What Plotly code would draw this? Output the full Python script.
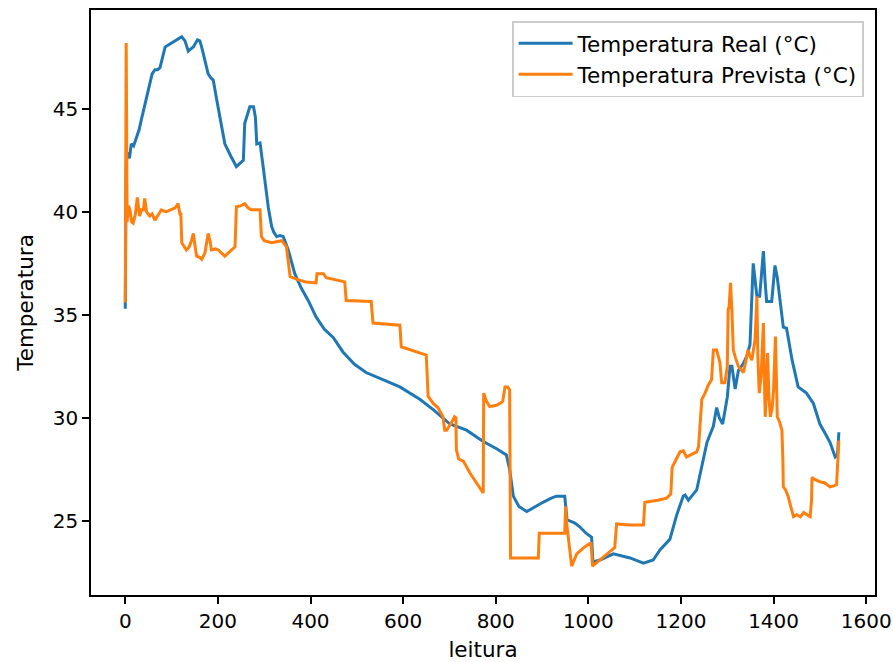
import plotly.graph_objects as go

# ---- data ----
real_x = [0, 2, 5, 9, 13, 18, 24, 30, 35, 44, 53, 58, 64, 70, 75, 80, 86, 93, 100, 110,
          122, 129, 136, 141, 147, 156, 161, 165, 172, 179, 185, 190, 197, 204, 215, 228,
          240, 250, 255, 258, 262, 269, 277, 281, 284, 291, 296, 302, 309, 316, 321, 327,
          334, 341, 346, 352, 366, 380, 395, 412, 430, 449, 470, 495, 520, 550, 593, 636,
          665, 701, 737, 773, 802, 823, 830, 838, 850, 867, 885, 902, 920, 931, 949, 952,
          954, 970, 982, 995, 1007, 1010, 1025, 1054, 1070, 1090, 1119, 1140, 1155, 1176,
          1191, 1205, 1209, 1216, 1234, 1245, 1256, 1270, 1277, 1283, 1290, 1300, 1306,
          1310, 1317, 1324, 1335, 1342, 1349, 1356, 1360, 1364, 1370, 1378, 1382, 1385,
          1396, 1400, 1403, 1408, 1414, 1421, 1428, 1440, 1453, 1471, 1486, 1500, 1510,
          1522, 1533, 1538, 1541]
real_y = [35.3, 42.4, 42.9, 42.6, 43.3, 43.2, 43.6, 44.0, 44.5, 45.4, 46.3, 46.7, 46.9, 46.9,
          47.0, 47.5, 48.0, 48.1, 48.2, 48.3, 48.5, 48.3, 47.8, 47.9, 48.0, 48.35, 48.3, 48.0,
          47.4, 46.7, 46.5, 46.4, 45.5, 44.6, 43.3, 42.7, 42.2, 42.4, 42.5, 44.3, 44.6, 45.1,
          45.1, 44.6, 43.3, 43.35, 42.5, 41.4, 40.2, 39.3, 39.0, 38.8, 38.85, 38.8, 38.5,
          38.15, 37.0, 36.3, 35.7, 34.9, 34.3, 33.9, 33.2, 32.6, 32.2, 31.9, 31.5, 30.9, 30.4,
          29.7, 29.4, 28.85, 28.5, 28.2, 27.5, 26.2, 25.7, 25.45, 25.7, 25.9, 26.1, 26.2,
          26.2, 25.6, 25.05, 24.9, 24.7, 24.4, 24.2, 23.0, 23.1, 23.4, 23.3, 23.2, 22.95,
          23.1, 23.6, 24.1, 25.3, 26.2, 26.25, 26.0, 26.5, 27.6, 28.8, 29.6, 30.5, 30.0,
          29.7, 31.0, 32.5, 32.5, 31.4, 32.3, 32.65, 33.0, 33.55, 37.5, 36.5, 35.9, 35.9,
          38.1, 36.5, 35.65, 35.65, 36.5, 37.4, 36.8, 35.55, 34.4, 34.35, 32.8, 31.5, 31.2,
          30.7, 29.7, 29.3, 28.8, 28.1, 28.2, 29.3]

prev_x = [0, 2, 4, 7, 10, 14, 17, 22, 26, 29, 31, 35, 39, 42, 46, 53, 58, 64, 70, 78, 88,
          100, 108, 114, 118, 120, 122, 132, 138, 143, 147, 151, 154, 160, 165, 172, 179,
          183, 186, 195, 201, 208, 215, 222, 229, 237, 240, 250, 258, 265, 272, 280, 291,
          294, 300, 316, 330, 338, 348, 352, 356, 374, 390, 412, 414, 428, 434, 474, 477,
          531, 535, 593, 596, 629, 650, 654, 665, 675, 686, 690, 694, 704, 711, 714, 715,
          720, 730, 745, 760, 773, 774, 780, 787, 800, 809, 815, 820, 826, 830, 832, 892,
          894, 949, 951, 953, 956, 960, 964, 975, 990, 1003, 1006, 1009, 1025, 1040, 1057,
          1061, 1090, 1119, 1122, 1150, 1169, 1178, 1181, 1190, 1198, 1205, 1212, 1225,
          1234, 1238, 1241, 1245, 1252, 1259, 1266, 1270, 1277, 1284, 1288, 1295, 1300,
          1302, 1304, 1307, 1310, 1313, 1318, 1324, 1335, 1340, 1345, 1349, 1353, 1360,
          1364, 1366, 1369, 1373, 1378, 1380, 1382, 1385, 1387, 1390, 1393, 1397, 1400,
          1404, 1406, 1408, 1413, 1418, 1420, 1421, 1426, 1432, 1437, 1443, 1450, 1458,
          1465, 1472, 1479, 1482, 1483, 1490, 1500, 1510, 1522, 1530, 1536, 1541]
prev_y = [35.6, 48.2, 39.5, 40.3, 40.1, 39.5, 39.45, 39.9, 40.7, 40.0, 39.8, 40.1, 40.1,
          40.65, 40.0, 39.8, 39.9, 39.6, 39.8, 40.1, 40.0, 40.1, 40.2, 40.4, 39.9, 39.9,
          38.5, 38.15, 38.3, 38.6, 38.95, 38.3, 37.85, 37.8, 37.7, 38.0, 38.95, 38.6, 38.15,
          38.2, 38.15, 38.0, 37.85, 38.0, 38.15, 38.3, 40.25, 40.3, 40.4, 40.2, 40.1, 40.1,
          40.1, 38.8, 38.6, 38.5, 38.55, 38.6, 38.3, 37.5, 36.85, 36.7, 36.6, 36.55, 37.0,
          37.0, 36.8, 36.6, 35.7, 35.65, 34.6, 34.5, 33.45, 33.2, 33.05, 31.05, 30.7, 30.5,
          30.05, 29.4, 29.4, 29.75, 30.05, 30.0, 28.45, 28.0, 27.9, 27.3, 26.8, 26.35, 31.2,
          30.8, 30.55, 30.6, 30.7, 30.8, 31.5, 31.5, 31.35, 23.2, 23.2, 24.4, 24.4, 25.7,
          24.9, 24.25, 23.5, 22.8, 23.4, 23.7, 23.9, 23.9, 22.8, 23.1, 23.35, 23.7, 24.85,
          24.8, 24.8, 25.9, 26.0, 26.1, 26.3, 27.6, 28.0, 28.35, 28.4, 28.1, 28.25, 28.35,
          28.6, 29.6, 30.9, 31.2, 31.6, 31.85, 33.3, 33.3, 32.7, 31.7, 31.7, 32.5, 35.25,
          35.4, 36.55, 35.2, 33.3, 32.9, 32.5, 32.2, 32.7, 33.3, 33.0, 32.8, 33.8, 35.9,
          33.0, 31.2, 32.0, 34.6, 32.0, 30.05, 31.5, 33.15, 31.0, 30.05, 30.5, 31.35, 33.95,
          31.5, 30.05, 29.8, 29.4, 28.0, 26.65, 26.5, 26.15, 25.7, 25.2, 25.3, 25.2, 25.4,
          25.3, 25.2, 26.0, 27.1, 27.0, 26.9, 26.85, 26.65, 26.7, 26.75, 28.9]

x_ticks = [0, 200, 400, 600, 800, 1000, 1200, 1400, 1600]
y_ticks = [25, 30, 35, 40, 45]
x_label = "leitura"
y_label = "Temperatura"
real_name = "Temperatura Real (°C)"
prev_name = "Temperatura Prevista (°C)"

FONT = "DejaVu Sans"
TICK_SIZE = 20
LABEL_SIZE = 21.5

fig = go.Figure()
fig.add_trace(go.Scatter(x=real_x, y=real_y, mode="lines", name=real_name,
                         line=dict(color="#1f77b4", width=3)))
fig.add_trace(go.Scatter(x=prev_x, y=prev_y, mode="lines", name=prev_name,
                         line=dict(color="#ff7f0e", width=3)))

axis_common = dict(showgrid=False, zeroline=False, showline=True, mirror=True,
                   linecolor="black", linewidth=1.6, ticks="outside", ticklen=7,
                   tickwidth=1.6, tickcolor="black", automargin=False,
                   tickfont=dict(family=FONT, size=TICK_SIZE, color="black"))

fig.update_xaxes(range=[-74, 1619], tickvals=x_ticks,
                 title=dict(text=x_label, font=dict(family=FONT, size=LABEL_SIZE, color="black"),
                            standoff=11),
                 **axis_common)
fig.update_yaxes(range=[21.4, 49.8], tickvals=y_ticks,
                 title=dict(text=y_label, font=dict(family=FONT, size=LABEL_SIZE, color="black"),
                            standoff=13),
                 **axis_common)

fig.update_layout(
    width=893, height=662,
    margin=dict(l=91, r=18, t=10, b=67),
    plot_bgcolor="white", paper_bgcolor="white",
    font=dict(family=FONT, size=TICK_SIZE, color="black"),
    legend=dict(x=0.986, y=0.981, xanchor="right", yanchor="top",
                bgcolor="rgba(255,255,255,0.8)", bordercolor="#cccccc", borderwidth=1.6,
                font=dict(family=FONT, size=LABEL_SIZE, color="black"),
                itemwidth=54, tracegroupgap=0),
    showlegend=True,
)

fig.write_html("out.html", config={"displayModeBar": False},
               post_script="document.body.style.margin='0';document.body.style.padding='0';")
